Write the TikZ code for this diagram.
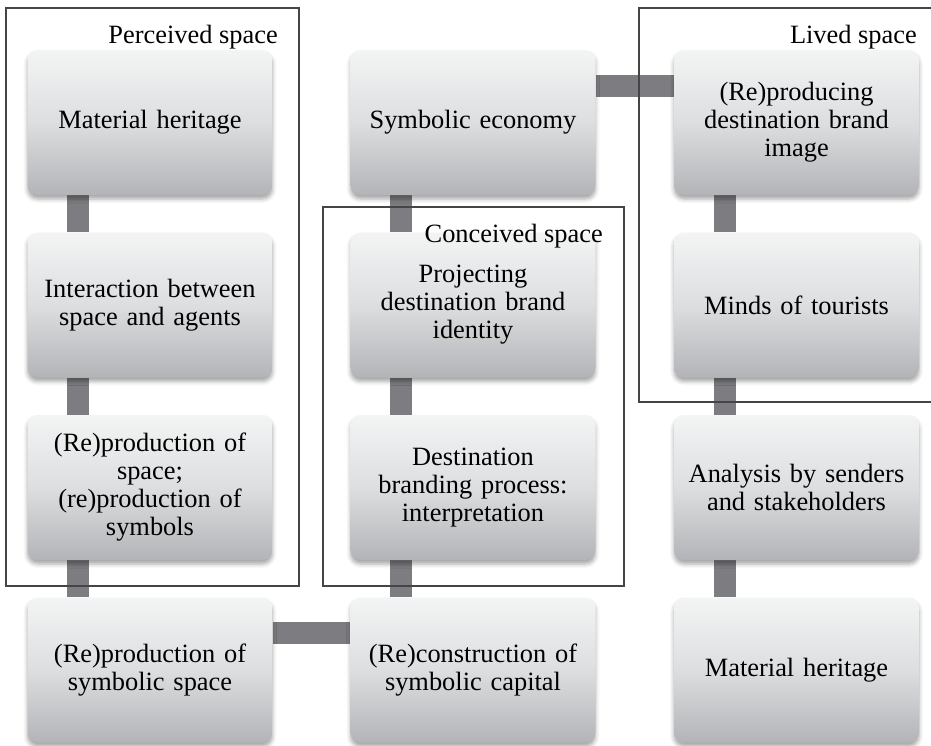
\documentclass[tikz,border=0pt]{standalone}
\usepackage{fontspec}
\setmainfont{Liberation Serif}
\usetikzlibrary{shadows.blur}
\pgfdeclarelayer{background}
\pgfsetlayers{background,main}

\definecolor{boxtop}{HTML}{F3F4F4}
\definecolor{boxmid}{HTML}{DDDEE0}
\definecolor{boxbot}{HTML}{B2B4B7}
\definecolor{linkgray}{HTML}{7D7D81}
\definecolor{framegray}{HTML}{454545}

\tikzset{
  stagebox/.style={
    rounded corners=10pt,
    minimum width=245pt, minimum height=145pt,
    text width=235pt, align=center,
    top color=boxtop, bottom color=boxbot, middle color=boxmid,
    blur shadow={shadow xshift=0pt, shadow yshift=-4pt,
                 shadow blur radius=4pt, shadow opacity=35},
    font=\fontsize{26.4}{28}\selectfont, inner sep=0pt
  },
  link/.style={draw=linkgray, line width=22pt, line cap=butt},
  spaceframe/.style={draw=framegray, line width=1.9pt},
  framelabel/.style={anchor=base east, inner sep=0pt,
    font=\fontsize{26.4}{28}\selectfont}
}

\begin{document}
\begin{tikzpicture}[x=1pt, y=-1pt]
\useasboundingbox (0,0) rectangle (931,745);

% column 1
\node[stagebox] (m1) at (150,122.5) {Material heritage};
\node[stagebox] (ia) at (150,305) {Interaction between\\space and agents};
\node[stagebox] (rp) at (150,487.5) {(Re)production of\\space;\\(re)production of\\symbols};
\node[stagebox] (ss) at (150,670) {(Re)production of\\symbolic space};

% column 2
\node[stagebox] (se) at (473,122.5) {Symbolic economy};
\node[stagebox] (pi) at (473,305) {Projecting\\destination brand\\identity};
\node[stagebox] (bp) at (473,487.5) {Destination\\branding process:\\interpretation};
\node[stagebox] (sc) at (473,670) {(Re)construction of\\symbolic capital};

% column 3
\node[stagebox] (bi) at (796.5,122.5) {(Re)producing\\destination brand\\image};
\node[stagebox] (mt) at (796.5,305) {Minds of tourists};
\node[stagebox] (an) at (796.5,487.5) {Analysis by senders\\and stakeholders};
\node[stagebox] (m2) at (796.5,670) {Material heritage};

% connectors behind the boxes
\begin{pgfonlayer}{background}
  \foreach \a/\b in {m1/ia, ia/rp, rp/ss, se/pi, pi/bp, bp/sc, bi/mt, mt/an, an/m2}
    \draw[link] ([xshift=-72pt]\a.south) -- ([xshift=-72pt]\b.north);
  \draw[link] ([yshift=-36pt]se.north east) -- ([yshift=-36pt]bi.north west);
  \draw[link] ([yshift=-36pt]ss.north east) -- ([yshift=-36pt]sc.north west);
\end{pgfonlayer}

% space frames
\coordinate (pA) at (6,8);   \coordinate (pB) at (299,586);
\coordinate (cA) at (323,207); \coordinate (cB) at (624,586);
\coordinate (lA) at (639,8); \coordinate (lB) at (938,402);
\draw[spaceframe] (pA) rectangle (pB);
\draw[spaceframe] (cA) rectangle (cB);
\draw[spaceframe] (lA) rectangle (lB);

\node[framelabel] (pl) at (278,43) {Perceived space};
\node[framelabel] (cl) at (603,242) {Conceived space};
\node[framelabel] (ll) at (917,43) {Lived space};
\end{tikzpicture}
\end{document}
